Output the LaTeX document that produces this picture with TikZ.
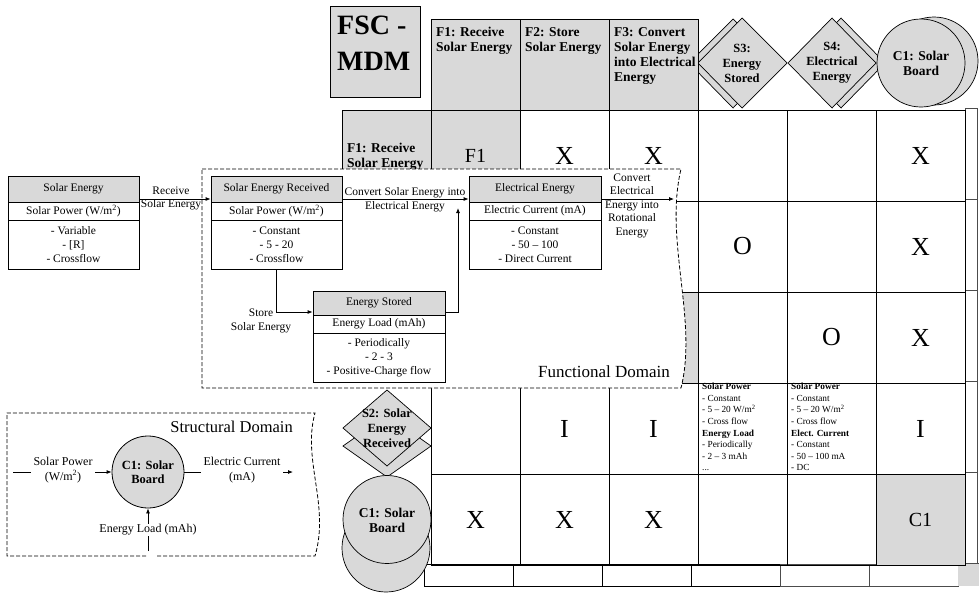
\documentclass[tikz,border=0pt]{standalone}
\usepackage{fontspec}
\setmainfont{Liberation Serif}
\usetikzlibrary{arrows.meta,shapes.geometric}
\definecolor{cellgray}{RGB}{217,217,217}

\begin{document}
\begin{tikzpicture}[x=1pt,y=-1pt,
  ln/.style={draw=black,line width=0.9pt},
  gcell/.style={fill=cellgray,draw=black,line width=0.9pt},
  ghost/.style={draw=black!70,line width=0.9pt},
  shp/.style={fill=cellgray,draw=black,line width=0.7pt},
  bigmark/.style={font=\fontsize{26}{30}\selectfont,inner sep=0pt},
  midmark/.style={font=\fontsize{20}{24}\selectfont,inner sep=0pt},
  hdtext/.style={font=\bfseries\fontsize{13.5}{15}\selectfont,align=left,anchor=north west,inner sep=0pt},
  shtext/.style={font=\bfseries\fontsize{12.5}{15}\selectfont,align=center,inner sep=0pt},
  ctext/.style={font=\bfseries\fontsize{13.5}{15}\selectfont,align=center,inner sep=0pt},
  celltext/.style={font=\fontsize{9.3}{11.6}\selectfont,align=left,anchor=north west,inner sep=0pt},
  bhead/.style={fill=cellgray,draw=black,line width=0.8pt,inner sep=0pt,font=\fontsize{11.5}{14}\selectfont},
  brow/.style={fill=white,draw=black,line width=0.8pt,inner sep=0pt,font=\fontsize{11.5}{14}\selectfont},
  bbody/.style={brow,align=center},
  lab/.style={font=\fontsize{11.5}{13.5}\selectfont,align=center,inner sep=0pt},
  slab/.style={font=\fontsize{12}{14.5}\selectfont,align=center,inner xsep=3pt,inner ysep=1pt,fill=white},
  arr/.style={draw=black,line width=0.8pt,-{Latex[length=5pt,width=4pt]}},
  dom/.style={draw=black,line width=0.8pt,dash pattern=on 4pt off 2pt},
]
\useasboundingbox (0,0) rectangle (979,592);
\fill[white] (0,0) rectangle (979,592);

% ---- offset copy of the matrix peeking out at the right and bottom ----
\draw[ghost] (965,108) rectangle (977,563);
\foreach \y in {199,290,381,472} \draw[ghost] (965,\y) -- (977,\y);
\foreach \x in {424,513,602,691} \draw[ln] (\x,564) rectangle ++(89,22);
\foreach \x in {780,869} \draw[ghost] (\x,564) rectangle ++(89,22);
\fill[cellgray] (958,563) rectangle (979,586);
\draw[ghost] (958,563) -- (979,563);

% ---- title box ----
\node[gcell,minimum width=90pt,minimum height=91pt,anchor=north west,inner sep=0pt] (fsc) at (330,6) {};
\node[font=\bfseries\fontsize{28}{36}\selectfont,align=left,anchor=north west,inner sep=0pt] (fsct) at (337,16) {FSC -\\MDM};

% ---- column headers: stacked shapes ----
\filldraw[shp] (733,19) -- (777,63) -- (733,108) -- (689,63) -- cycle;
\filldraw[shp] (742,18) -- (787,63) -- (742,108) -- (698,63) -- cycle;
\node[shtext] (s3t) at (742,63) {S3:\\Energy\\Stored};
\filldraw[shp] (841,18) -- (885,63) -- (841,108) -- (797,63) -- cycle;
\filldraw[shp] (832,18) -- (876,63) -- (832,108) -- (788,63) -- cycle;
\node[shtext] (s4t) at (832,63) {S4:\\Electrical\\Energy};
\node[circle,shp,minimum size=88pt,inner sep=0pt] (hc1b) at (934,61) {};
\node[circle,shp,minimum size=88pt,inner sep=0pt] (hc1) at (921,63) {};
\node[ctext] (hc1t) at (921,63) {C1: Solar\\Board};

% ---- column headers: functions ----
\filldraw[gcell] (431,19) rectangle ++(89,91);
\filldraw[gcell] (520,19) rectangle ++(89,91);
\filldraw[gcell] (609,19) rectangle ++(89,91);
\node[hdtext] (h1t) at (436,27) {F1: Receive\\Solar Energy};
\node[hdtext] (h2t) at (525,27) {F2: Store\\Solar Energy};
\node[hdtext] (h3t) at (614,27) {F3: Convert\\Solar Energy\\into Electrical\\Energy};

% ---- matrix grid ----
\foreach \x in {431,520,609,698,787,876}
  \foreach \y in {110,201,292,383,474}
    \draw[ln] (\x,\y) rectangle ++(89,91);
\filldraw[gcell] (431,110) rectangle ++(89,91);
\filldraw[gcell] (520,201) rectangle ++(89,91);
\filldraw[gcell] (609,292) rectangle ++(89,91);
\filldraw[gcell] (876,474) rectangle ++(89,91);

% ---- row headers ----
\filldraw[gcell] (342,110) rectangle ++(89,91);
\filldraw[gcell] (342,201) rectangle ++(89,91);
\filldraw[gcell] (342,292) rectangle ++(89,91);
\node[hdtext] (r1t) at (347,143) {F1: Receive\\Solar Energy};
\filldraw[shp] (387,415) -- (431,446) -- (387,477) -- (343,446) -- cycle;
\filldraw[shp] (387,390) -- (431,428) -- (387,466) -- (343,428) -- cycle;
\node[shtext] (s2t) at (387,428) {S2: Solar\\Energy\\Received};
\node[circle,shp,minimum size=88pt,inner sep=0pt] (rc1b) at (386,548) {};
\node[circle,shp,minimum size=88pt,inner sep=0pt] (rc1) at (387,519.5) {};
\node[ctext] (rc1t) at (387,520) {C1: Solar\\Board};

% ---- matrix entries ----
\node[midmark] (m11) at (475.5,155.5) {F1};
\node[bigmark] (m12) at (564.5,155.5) {X};
\node[bigmark] (m13) at (653.5,155.5) {X};
\node[bigmark] (m16) at (920.5,155.5) {X};
\node[bigmark] (m24) at (742.5,246.5) {O};
\node[bigmark] (m26) at (920.5,246.5) {X};
\node[bigmark] (m35) at (831.5,337.5) {O};
\node[bigmark] (m36) at (920.5,337.5) {X};
\node[bigmark] (m42) at (564.5,428.5) {I};
\node[bigmark] (m43) at (653.5,428.5) {I};
\node[bigmark] (m46) at (920.5,428.5) {I};
\node[celltext] (m44) at (702,383) {\textbf{Solar Power}\\- Constant\\- 5 – 20 W/m\textsuperscript{2}\\- Cross flow\\\textbf{Energy Load}\\- Periodically\\- 2 – 3 mAh\\...};
\node[celltext] (m45) at (791,383) {\textbf{Solar Power}\\- Constant\\- 5 – 20 W/m\textsuperscript{2}\\- Cross flow\\\textbf{Elect. Current}\\- Constant\\- 50 – 100 mA\\- DC};
\node[bigmark] (m51) at (475.5,519.5) {X};
\node[bigmark] (m52) at (564.5,519.5) {X};
\node[bigmark] (m53) at (653.5,519.5) {X};
\node[midmark] (m56) at (920.5,519.5) {C1};

% ---- functional domain ----
\filldraw[dom,fill=white] (202,169) -- (681,169) .. controls (664,240) and (698,320) .. (681,388) -- (202,388) -- cycle;
\node[font=\fontsize{17}{20}\selectfont,anchor=base east,inner sep=0pt] (fdl) at (670,377.5) {Functional Domain};

\node[bhead,minimum width=131pt,minimum height=26pt] (ah) at (73.5,189) {Solar Energy};
\node[brow,minimum width=131pt,minimum height=18pt] (ar) at (73.5,211) {Solar Power (W/m\textsuperscript{2})};
\node[bbody,minimum width=131pt,minimum height=49pt] (ab) at (73.5,244.5) {- Variable\\- [R]\\- Crossflow};

\node[bhead,minimum width=131pt,minimum height=26pt] (bh) at (276.5,189) {Solar Energy Received};
\node[brow,minimum width=131pt,minimum height=18pt] (br) at (276.5,211) {Solar Power (W/m\textsuperscript{2})};
\node[bbody,minimum width=131pt,minimum height=49pt] (bb) at (276.5,244.5) {- Constant\\- 5 - 20\\- Crossflow};

\node[bhead,minimum width=132pt,minimum height=26pt] (ch) at (535,189) {Electrical Energy};
\node[brow,minimum width=132pt,minimum height=18pt] (cr) at (535,211) {Electric Current (mA)};
\node[bbody,minimum width=132pt,minimum height=49pt] (cb) at (535,244.5) {- Constant\\- 50 – 100\\- Direct Current};

\node[bhead,minimum width=132pt,minimum height=24pt] (dh) at (379,303) {Energy Stored};
\node[brow,minimum width=132pt,minimum height=18pt] (dr) at (379,324) {Energy Load (mAh)};
\node[bbody,minimum width=132pt,minimum height=49pt] (db) at (379,357.5) {- Periodically\\- 2 - 3\\- Positive-Charge flow};

\draw[arr] ([yshift=-10pt]ah.east) -- ([yshift=-10pt]bh.west);
\node[lab] (l1) at (171,198.5) {Receive\\Solar Energy};
\draw[arr] ([yshift=-10pt]bh.east) -- ([yshift=-10pt]ch.west);
\node[lab] (l2) at (405,199.5) {Convert Solar Energy into\\Electrical Energy};
\coordinate (cout) at (674,199);
\draw[arr] ([yshift=-10pt]ch.east) -- (cout);
\node[lab] (l3) at (632,205.5) {Convert\\Electrical\\Energy into\\Rotational\\Energy};
\draw[arr] (bb.south) |- ([yshift=-9pt]dh.west);
\node[lab] (l4) at (261,321) {Store\\Solar Energy};
\coordinate (cup) at (458,208);
\draw[arr] ([yshift=-9pt]dh.east) -| (cup);

% ---- structural domain ----
\draw[dom] (146,556) -- (7,556) -- (7,413) -- (315,413) .. controls (302,460) and (330,505) .. (315,556) -- (156,556);
\node[font=\fontsize{16.5}{20}\selectfont,anchor=base east,inner sep=0pt] (sdl) at (293,432) {Structural Domain};
\node[circle,shp,line width=0.8pt,minimum size=72pt,inner sep=0pt,font=\bfseries\fontsize{12.5}{14.5}\selectfont,align=center] (sc1) at (148,472) {C1: Solar\\Board};
\coordinate (sin) at (13,472);
\coordinate (sout) at (293,472);
\coordinate (sload) at (148,551);
\draw[arr] (sin) -- (sc1.west);
\draw[arr] (sc1.east) -- (sout);
\draw[arr] (sload) -- (sc1.south);
\node[slab] (sl1) at (63,470) {Solar Power\\(W/m\textsuperscript{2})};
\node[slab] (sl2) at (242,470) {Electric Current\\(mA)};
\node[slab] (sl3) at (148,530) {Energy Load (mAh)};
\end{tikzpicture}
\end{document}
